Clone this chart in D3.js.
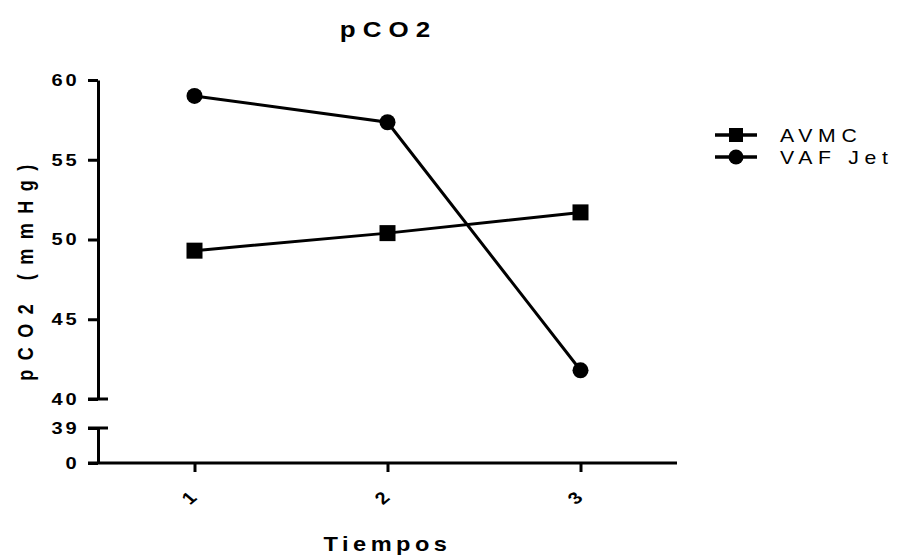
<!DOCTYPE html>
<html lang="en">
<head>
  <meta charset="UTF-8" />
  <title>pCO2</title>
  <script src="https://d3js.org/d3.v7.min.js"></script>
  <style>
    body { margin: 0; background: #ffffff; }
    svg { font-family: "Liberation Sans", Arial, sans-serif; }
  </style>
</head>
<body>
  <div id="chart"></div>
  <script>
    // data
    const tiempos = [1, 2, 3];
    const avmc = [49.3, 50.4, 51.7];
    const vafJet = [59.0, 57.35, 41.8];
    const upperTicks = [40, 45, 50, 55, 60];
    const lowerTicks = [0, 39];
    const seriesNames = ["AVMC", "VAF Jet"];

    const width = 897, height = 560;
    // the original text looks a bit wide, so stretch glyphs horizontally
    const stretch = 1.18;

    const svg = d3.select("#chart").append("svg")
      .attr("width", width)
      .attr("height", height);

    const x = d3.scaleLinear().domain([0.5, 3.5]).range([98, 677]);
    // broken y axis: two segments
    const yUp = d3.scaleLinear().domain([40, 60]).range([399, 80]);
    const yLow = d3.scaleLinear().domain([0, 39]).range([463, 428]);

    const axisStroke = 3;

    function styleAxis(sel) {
      sel.attr("font-family", null);
      sel.selectAll(".domain, .tick line")
        .attr("stroke", "#000")
        .attr("stroke-width", axisStroke);
      sel.selectAll("text")
        .attr("fill", "#000")
        .style("font-size", "17px")
        .style("font-weight", "bold")
        .style("letter-spacing", "2.5px");
    }

    function yAxisSeg(scale, ticks) {
      const g = svg.append("g")
        .attr("transform", `translate(${x.range()[0]},0)`)
        .call(d3.axisLeft(scale).tickValues(ticks).tickSize(10).tickSizeOuter(0));
      styleAxis(g);
      g.selectAll("text")
        .attr("x", -15.5)
        .attr("transform", `scale(${stretch},1)`);
      return g;
    }
    yAxisSeg(yUp, upperTicks);
    yAxisSeg(yLow, lowerTicks);

    // break caps
    [yUp(40), yLow(39)].forEach(yy => {
      svg.append("line")
        .attr("x1", x.range()[0] - 10)
        .attr("x2", x.range()[0] + 10)
        .attr("y1", yy).attr("y2", yy)
        .attr("stroke", "#000")
        .attr("stroke-width", axisStroke);
    });

    // x axis
    const gX = svg.append("g")
      .attr("transform", `translate(0,${yLow(0)})`)
      .call(d3.axisBottom(x).tickValues(tiempos).tickSize(9).tickSizeOuter(0).tickFormat(d3.format("d")));
    gX.select(".domain").attr("d", `M${x.range()[0] - 10},0H${x.range()[1]}`);
    styleAxis(gX);
    gX.selectAll("text")
      .style("letter-spacing", "0px")
      .attr("text-anchor", "middle")
      .attr("dy", "0.35em")
      .attr("y", 0)
      .attr("transform", `translate(-6,35) scale(${stretch},1) rotate(-45)`);

    // lines
    const lineUp = d3.line()
      .x((d, i) => x(tiempos[i]))
      .y(d => yUp(d));

    const lineW = 3;
    svg.append("path")
      .datum(avmc)
      .attr("fill", "none")
      .attr("stroke", "#000")
      .attr("stroke-width", lineW)
      .attr("d", lineUp);
    svg.append("path")
      .datum(vafJet)
      .attr("fill", "none")
      .attr("stroke", "#000")
      .attr("stroke-width", lineW)
      .attr("d", lineUp);

    // markers
    const sq = 16;
    svg.selectAll(".sq")
      .data(avmc)
      .enter().append("rect")
      .attr("x", (d, i) => x(tiempos[i]) - sq / 2)
      .attr("y", d => yUp(d) - sq / 2)
      .attr("width", sq)
      .attr("height", sq)
      .attr("fill", "#000");
    svg.selectAll(".ci")
      .data(vafJet)
      .enter().append("circle")
      .attr("cx", (d, i) => x(tiempos[i]))
      .attr("cy", d => yUp(d))
      .attr("r", 8)
      .attr("fill", "#000");

    // title
    svg.append("text")
      .attr("transform", `translate(388.5,37) scale(${stretch},1)`)
      .attr("text-anchor", "middle")
      .style("font-size", "22px")
      .style("font-weight", "bold")
      .style("letter-spacing", "6px")
      .text("pCO2");

    // y axis title
    svg.append("text")
      .attr("transform", `translate(33,268) rotate(-90) scale(1,${stretch})`)
      .attr("text-anchor", "middle")
      .style("font-size", "18px")
      .style("font-weight", "bold")
      .style("letter-spacing", "9.5px")
      .text("pCO2 (mmHg)");

    // x axis title
    svg.append("text")
      .attr("transform", `translate(387.5,551) scale(${stretch},1)`)
      .attr("text-anchor", "middle")
      .style("font-size", "20px")
      .style("font-weight", "bold")
      .style("letter-spacing", "3.8px")
      .text("Tiempos");

    // legend
    const legend = svg.selectAll(".legend")
      .data(seriesNames)
      .enter().append("g")
      .attr("transform", (d, i) => `translate(715,${135 + i * 22})`);

    legend.append("line")
      .attr("x1", 0).attr("x2", 42)
      .attr("stroke", "#000")
      .attr("stroke-width", 3.5);
    legend.filter((d, i) => i === 0).append("rect")
      .attr("x", 21 - 7).attr("y", -7)
      .attr("width", 14).attr("height", 14)
      .attr("fill", "#000");
    legend.filter((d, i) => i === 1).append("circle")
      .attr("cx", 21).attr("r", 7.5)
      .attr("fill", "#000");
    legend.append("text")
      .attr("transform", `translate(65,6.5) scale(${stretch},1)`)
      .style("font-size", "18px")
      .style("letter-spacing", "4.8px")
      .text(d => d);
  </script>
</body>
</html>
